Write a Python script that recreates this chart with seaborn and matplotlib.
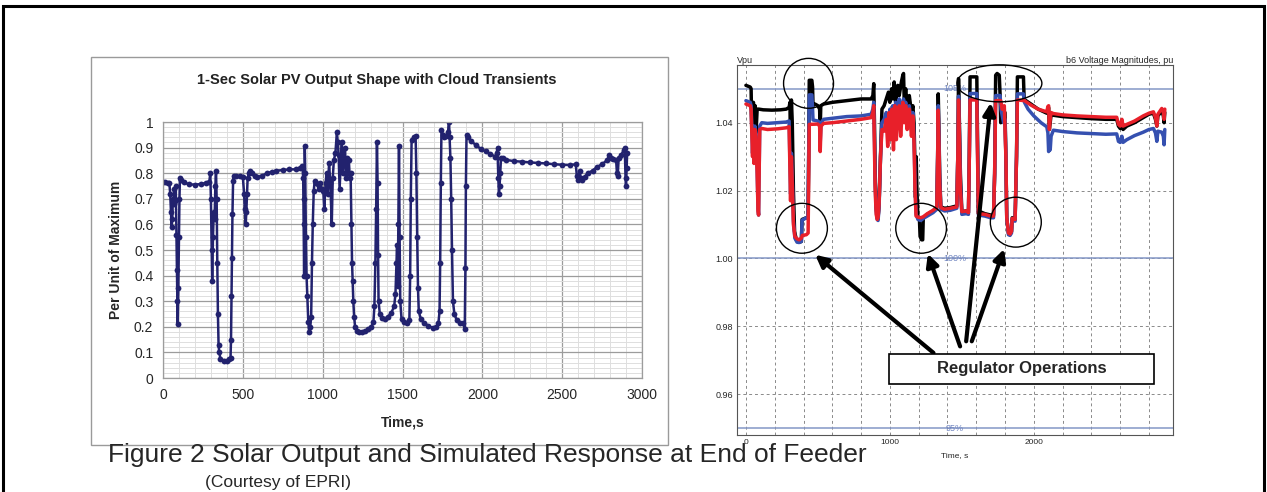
import matplotlib
matplotlib.use("Agg")
import matplotlib.pyplot as plt
import matplotlib.patches as mpatches
import numpy as np
import pandas as pd
import seaborn as sns

# ---- left chart: 1-sec PV output (per unit of maximum) ----
pv_time = [0, 15, 30, 40, 45, 50, 54, 58, 62, 66, 70, 75, 80, 84, 87, 90, 92, 96, 100, 103,
           106, 115, 130, 160, 200, 240, 270, 290, 296, 300, 305, 308, 313, 318, 323, 328, 332, 336, 340, 344,
           348, 352, 360, 380, 400, 415, 423, 426, 429, 432, 435, 439, 442, 460, 480, 500, 508, 512, 518, 522,
           526, 530, 538, 548, 560, 575, 590, 620, 650, 680, 710, 750, 790, 830, 860, 873, 878, 881, 884, 886,
           888, 891, 895, 899, 904, 910, 916, 922, 928, 933, 938, 944, 950, 960, 975, 985, 995, 1004, 1010, 1018,
           1025, 1032, 1040, 1048, 1057, 1063, 1070, 1080, 1089, 1095, 1100, 1106, 1112, 1120, 1126, 1133, 1140, 1146, 1152, 1158,
           1164, 1170, 1175, 1180, 1184, 1188, 1192, 1197, 1203, 1212, 1225, 1245, 1265, 1285, 1305, 1318, 1324, 1330, 1335, 1340,
           1344, 1347, 1350, 1358, 1370, 1390, 1410, 1430, 1448, 1456, 1462, 1466, 1470, 1474, 1478, 1482, 1486, 1494, 1510, 1530,
           1543, 1548, 1552, 1557, 1570, 1582, 1587, 1592, 1597, 1602, 1615, 1635, 1660, 1690, 1712, 1725, 1732, 1736, 1740, 1744,
           1752, 1762, 1775, 1785, 1791, 1795, 1800, 1805, 1810, 1816, 1825, 1840, 1860, 1880, 1890, 1894, 1897, 1901, 1910, 1930,
           1960, 1990, 2020, 2050, 2080, 2090, 2095, 2100, 2104, 2108, 2112, 2117, 2130, 2150, 2200, 2250, 2300, 2350, 2400, 2450,
           2500, 2550, 2585, 2592, 2600, 2610, 2616, 2625, 2640, 2660, 2690, 2720, 2750, 2780, 2795, 2805, 2820, 2838, 2843, 2848,
           2854, 2870, 2885, 2892, 2897, 2900, 2904, 2907]
pv_value = [0.765, 0.765, 0.762, 0.76, 0.72, 0.65, 0.59, 0.62, 0.70, 0.68, 0.74, 0.69, 0.75, 0.56, 0.42, 0.30, 0.21, 0.35, 0.55, 0.70,
            0.78, 0.775, 0.765, 0.757, 0.755, 0.758, 0.762, 0.765, 0.80, 0.70, 0.50, 0.38, 0.55, 0.65, 0.62, 0.75, 0.81, 0.70, 0.45, 0.25,
            0.13, 0.10, 0.075, 0.065, 0.068, 0.075, 0.08, 0.15, 0.32, 0.47, 0.64, 0.77, 0.79, 0.79, 0.788, 0.785, 0.72, 0.66, 0.60, 0.65,
            0.72, 0.78, 0.80, 0.81, 0.80, 0.79, 0.785, 0.79, 0.80, 0.805, 0.81, 0.812, 0.815, 0.815, 0.82, 0.83, 0.78, 0.60, 0.40, 0.70,
            0.905, 0.80, 0.55, 0.40, 0.32, 0.22, 0.18, 0.20, 0.24, 0.45, 0.60, 0.73, 0.77, 0.76, 0.74, 0.76, 0.74, 0.73, 0.66, 0.76,
            0.80, 0.72, 0.84, 0.76, 0.60, 0.78, 0.85, 0.88, 0.96, 0.92, 0.87, 0.74, 0.82, 0.92, 0.80, 0.86, 0.90, 0.78, 0.86, 0.80,
            0.85, 0.78, 0.80, 0.60, 0.45, 0.38, 0.30, 0.24, 0.20, 0.185, 0.18, 0.18, 0.183, 0.19, 0.20, 0.22, 0.28, 0.45, 0.66, 0.92,
            0.76, 0.48, 0.30, 0.25, 0.235, 0.23, 0.24, 0.255, 0.28, 0.33, 0.45, 0.52, 0.36, 0.60, 0.905, 0.55, 0.30, 0.23, 0.22, 0.215,
            0.225, 0.40, 0.70, 0.93, 0.94, 0.945, 0.80, 0.55, 0.35, 0.26, 0.23, 0.215, 0.205, 0.195, 0.20, 0.215, 0.26, 0.45, 0.76, 0.97,
            0.95, 0.94, 0.945, 0.96, 1.00, 0.94, 0.86, 0.70, 0.50, 0.30, 0.25, 0.225, 0.215, 0.215, 0.19, 0.43, 0.75, 0.95, 0.94, 0.925,
            0.91, 0.895, 0.885, 0.875, 0.865, 0.88, 0.90, 0.78, 0.72, 0.75, 0.80, 0.86, 0.86, 0.852, 0.847, 0.845, 0.842, 0.84, 0.838, 0.835,
            0.833, 0.832, 0.835, 0.79, 0.775, 0.81, 0.78, 0.775, 0.785, 0.80, 0.81, 0.825, 0.835, 0.85, 0.87, 0.86, 0.855, 0.85, 0.80, 0.79,
            0.86, 0.87, 0.89, 0.90, 0.78, 0.75, 0.82, 0.88]

# ---- right chart: b6 voltage magnitudes (pu), three phases ----
black_time = [0, 30, 36, 40, 46, 52, 58, 64, 70, 78, 90, 120, 180, 240, 280, 300, 306, 310, 316, 322,
              330, 338, 350, 370, 385, 390, 420, 432, 436, 440, 458, 463, 466, 480, 500, 512, 516, 520, 540, 600,
              700, 800, 870, 882, 888, 893, 898, 905, 912, 918, 925, 935, 945, 960, 975, 990, 1000, 1012, 1020, 1030,
              1040, 1055, 1065, 1080, 1090, 1095, 1100, 1110, 1120, 1135, 1150, 1160, 1168, 1173, 1178, 1183, 1188, 1195, 1205, 1210,
              1220, 1228, 1232, 1260, 1300, 1326, 1332, 1336, 1340, 1346, 1354, 1380, 1420, 1465, 1472, 1477, 1483, 1490, 1500, 1530,
              1546, 1552, 1557, 1604, 1608, 1615, 1660, 1700, 1720, 1728, 1735, 1745, 1760, 1766, 1770, 1790, 1800, 1806, 1812, 1824,
              1835, 1845, 1850, 1860, 1870, 1880, 1886, 1928, 1932, 1935, 1980, 2030, 2090, 2098, 2103, 2108, 2114, 2120, 2136, 2200,
              2300, 2400, 2500, 2576, 2588, 2600, 2612, 2620, 2646, 2700, 2760, 2800, 2831, 2845, 2855, 2862, 2889, 2900, 2905, 2910]
black_volt = [1.051, 1.0505, 1.050, 1.040, 1.038, 1.046, 1.039, 1.045, 1.037, 1.044, 1.044, 1.0438, 1.0437, 1.0438, 1.044, 1.0445, 1.046, 1.030, 1.0467, 1.040,
              1.020, 1.008, 1.0055, 1.0048, 1.005, 1.0115, 1.012, 1.012, 1.030, 1.0525, 1.0525, 1.0505, 1.045, 1.0455, 1.045, 1.044, 1.038, 1.045, 1.0455, 1.046,
              1.0465, 1.047, 1.047, 1.048, 1.0515, 1.040, 1.025, 1.015, 1.0125, 1.012, 1.016, 1.030, 1.044, 1.045, 1.047, 1.049, 1.046, 1.050, 1.047, 1.052,
              1.046, 1.051, 1.048, 1.052, 1.054, 1.0545, 1.046, 1.050, 1.045, 1.048, 1.043, 1.045, 1.040, 1.030, 1.018, 1.030, 1.020, 1.012, 1.012, 1.0065,
              1.0055, 1.0055, 1.012, 1.013, 1.014, 1.0152, 1.030, 1.0485, 1.040, 1.025, 1.0152, 1.0148, 1.015, 1.0155, 1.030, 1.053, 1.040, 1.025, 1.0138, 1.014,
              1.0135, 1.030, 1.0535, 1.0535, 1.040, 1.014, 1.0132, 1.0128, 1.0128, 1.025, 1.054, 1.0545, 1.054, 1.048, 1.040, 1.042, 1.043, 1.030, 1.012, 1.0075,
              1.0072, 1.008, 1.012, 1.0118, 1.0115, 1.030, 1.0535, 1.0535, 1.048, 1.0468, 1.0455, 1.044, 1.0428, 1.044, 1.0445, 1.038, 1.040, 1.0425, 1.0422, 1.0418,
              1.0415, 1.0412, 1.041, 1.041, 1.039, 1.0383, 1.040, 1.038, 1.039, 1.040, 1.0415, 1.0425, 1.0428, 1.041, 1.039, 1.042, 1.0435, 1.042, 1.040, 1.043]

blue_time = [0, 30, 36, 42, 46, 50, 56, 62, 70, 78, 84, 88, 92, 96, 110, 150, 220, 280, 300, 305,
             310, 316, 322, 330, 340, 355, 370, 385, 390, 420, 430, 436, 440, 458, 463, 466, 500, 512, 516, 522,
             540, 600, 700, 800, 870, 882, 888, 893, 898, 905, 912, 918, 925, 935, 945, 960, 975, 990, 1000, 1012,
             1020, 1030, 1040, 1055, 1065, 1080, 1095, 1100, 1110, 1120, 1135, 1150, 1160, 1168, 1175, 1182, 1195, 1215, 1232, 1260,
             1300, 1326, 1332, 1336, 1340, 1346, 1354, 1380, 1420, 1465, 1472, 1477, 1483, 1490, 1500, 1530, 1546, 1552, 1557, 1604,
             1608, 1615, 1660, 1700, 1720, 1728, 1735, 1766, 1772, 1790, 1800, 1806, 1812, 1824, 1835, 1845, 1850, 1870, 1880, 1886,
             1928, 1932, 1935, 1960, 2000, 2050, 2090, 2098, 2103, 2108, 2114, 2120, 2136, 2200, 2300, 2400, 2500, 2576, 2588, 2600,
             2612, 2620, 2646, 2700, 2760, 2800, 2831, 2845, 2855, 2862, 2889, 2900, 2905, 2910]
blue_volt = [1.0465, 1.046, 1.045, 1.037, 1.031, 1.039, 1.030, 1.039, 1.037, 1.026, 1.015, 1.0128, 1.026, 1.039, 1.040, 1.0398, 1.040, 1.0402, 1.0405, 1.030,
             1.019, 1.031, 1.024, 1.011, 1.006, 1.0048, 1.0047, 1.005, 1.0113, 1.012, 1.012, 1.030, 1.0482, 1.0482, 1.044, 1.0408, 1.0405, 1.040, 1.034, 1.040,
             1.041, 1.0413, 1.0418, 1.042, 1.0425, 1.044, 1.046, 1.035, 1.022, 1.014, 1.0115, 1.0112, 1.015, 1.030, 1.040, 1.041, 1.043, 1.038, 1.044, 1.040,
             1.045, 1.037, 1.046, 1.044, 1.047, 1.043, 1.047, 1.042, 1.046, 1.040, 1.045, 1.038, 1.043, 1.035, 1.022, 1.013, 1.0115, 1.0112, 1.0118, 1.0125,
             1.0135, 1.0145, 1.030, 1.045, 1.038, 1.024, 1.0145, 1.014, 1.0142, 1.0148, 1.030, 1.0478, 1.038, 1.022, 1.013, 1.0132, 1.013, 1.030, 1.0486, 1.0486,
             1.035, 1.0128, 1.0125, 1.012, 1.012, 1.025, 1.048, 1.048, 1.044, 1.040, 1.041, 1.030, 1.012, 1.007, 1.0068, 1.0075, 1.0113, 1.011, 1.030, 1.0485,
             1.0485, 1.0468, 1.046, 1.044, 1.042, 1.040, 1.0388, 1.037, 1.0315, 1.035, 1.032, 1.036, 1.0378, 1.0374, 1.037, 1.0368, 1.0366, 1.0367, 1.0345, 1.0342,
             1.036, 1.0342, 1.035, 1.0362, 1.0372, 1.038, 1.0383, 1.037, 1.0345, 1.0375, 1.0372, 1.036, 1.0335, 1.038]

red_time = [0, 30, 36, 42, 46, 50, 56, 62, 70, 78, 84, 88, 92, 96, 110, 150, 220, 280, 300, 305,
            310, 316, 322, 330, 340, 355, 370, 385, 392, 420, 432, 436, 440, 500, 512, 516, 522, 540, 600, 700,
            800, 870, 882, 888, 893, 898, 905, 912, 918, 925, 935, 945, 960, 975, 985, 995, 1005, 1015, 1025, 1035,
            1045, 1055, 1065, 1075, 1090, 1100, 1110, 1120, 1135, 1150, 1160, 1168, 1175, 1182, 1195, 1215, 1232, 1260, 1300, 1326,
            1332, 1336, 1340, 1346, 1354, 1380, 1420, 1465, 1472, 1477, 1483, 1490, 1500, 1530, 1546, 1552, 1557, 1604, 1608, 1615,
            1660, 1700, 1720, 1728, 1735, 1770, 1780, 1795, 1806, 1812, 1824, 1835, 1845, 1850, 1870, 1880, 1886, 1935, 1980, 2030,
            2090, 2098, 2103, 2108, 2114, 2120, 2136, 2200, 2300, 2400, 2500, 2576, 2588, 2600, 2612, 2620, 2646, 2700, 2760, 2800,
            2831, 2845, 2855, 2862, 2889, 2900, 2905, 2910]
red_volt = [1.0455, 1.045, 1.044, 1.036, 1.030, 1.038, 1.028, 1.038, 1.036, 1.025, 1.014, 1.0128, 1.025, 1.038, 1.0383, 1.038, 1.0382, 1.0385, 1.0388, 1.028,
            1.017, 1.030, 1.022, 1.010, 1.0065, 1.0058, 1.0055, 1.006, 1.0068, 1.007, 1.0075, 1.025, 1.0395, 1.0396, 1.039, 1.0315, 1.039, 1.0398, 1.040, 1.0405,
            1.041, 1.0415, 1.043, 1.045, 1.033, 1.020, 1.013, 1.0115, 1.012, 1.016, 1.030, 1.038, 1.0375, 1.041, 1.033, 1.043, 1.035, 1.044, 1.032, 1.045,
            1.035, 1.043, 1.045, 1.036, 1.046, 1.040, 1.045, 1.038, 1.044, 1.036, 1.042, 1.034, 1.020, 1.0125, 1.0122, 1.012, 1.0123, 1.0132, 1.0142, 1.015,
            1.030, 1.0437, 1.036, 1.022, 1.015, 1.0145, 1.0148, 1.0152, 1.030, 1.0467, 1.036, 1.020, 1.0138, 1.014, 1.0135, 1.030, 1.0467, 1.0467, 1.033, 1.0132,
            1.013, 1.0125, 1.0125, 1.025, 1.0465, 1.0465, 1.044, 1.045, 1.030, 1.012, 1.0075, 1.0072, 1.008, 1.0118, 1.0115, 1.030, 1.0467, 1.0465, 1.0452, 1.044,
            1.0432, 1.0448, 1.045, 1.038, 1.041, 1.043, 1.0427, 1.0423, 1.042, 1.0418, 1.0416, 1.0416, 1.0395, 1.039, 1.041, 1.039, 1.0395, 1.0405, 1.042, 1.0428,
            1.0432, 1.0415, 1.039, 1.0425, 1.0442, 1.043, 1.041, 1.044]

pv_xticks = [0, 500, 1000, 1500, 2000, 2500, 3000]
pv_yticks = [0, 0.1, 0.2, 0.3, 0.4, 0.5, 0.6, 0.7, 0.8, 0.9, 1]
volt_yticks = [0.96, 0.98, 1.00, 1.02, 1.04]
limit_levels = [1.05, 1.00, 0.95]
limit_labels = ["105%", "100%", "95%"]

W, H = 1267, 492


def px_rect(x0, y0, x1, y1):
    return [x0 / W, 1 - y1 / H, (x1 - x0) / W, (y1 - y0) / H]


sns.set_style("white")
plt.rcParams["font.family"] = ["Liberation Sans", "DejaVu Sans"]

fig = plt.figure(figsize=(W / 100, H / 100), dpi=100)

# outer page frame
fig.add_artist(mpatches.Rectangle((3 / W, -0.05), 1261 / W, 1.05 - 6 / H, transform=fig.transFigure,
                                  fill=False, edgecolor="black", linewidth=2.2))
# left chart box
fig.add_artist(mpatches.Rectangle((91 / W, 1 - 445 / H), (668 - 91) / W, (445 - 57) / H, transform=fig.transFigure,
                                  fill=False, edgecolor="#9a9a9a", linewidth=1.0))

# ---------------- left chart ----------------
ax1 = fig.add_axes(px_rect(163, 122, 642, 378))
pv = pd.DataFrame({"t": pv_time, "v": pv_value})
sns.lineplot(data=pv, x="t", y="v", ax=ax1, color="#22226e", linewidth=1.8, marker="o",
             markersize=4.2, markeredgewidth=0, sort=False, estimator=None)
ax1.set_xlim(0, 3000)
ax1.set_ylim(0, 1)
ax1.set_xticks(pv_xticks)
ax1.set_xticklabels([str(v) for v in pv_xticks], fontsize=10)
ax1.set_yticks(pv_yticks)
ax1.set_yticklabels(["0", "0.1", "0.2", "0.3", "0.4", "0.5", "0.6", "0.7", "0.8", "0.9", "1"], fontsize=10)
ax1.set_xticks(np.arange(0, 3001, 100), minor=True)
ax1.set_yticks(np.arange(0, 1.001, 0.02), minor=True)
ax1.grid(which="minor", color="#dedede", linewidth=0.7)
ax1.grid(which="major", color="#9c9c9c", linewidth=0.9)
ax1.set_axisbelow(True)
ax1.tick_params(which="major", direction="out", length=4, color="#808080", pad=3)
ax1.tick_params(which="minor", length=0)
for s in ax1.spines.values():
    s.set_color("#9c9c9c")
    s.set_linewidth(0.9)
ax1.set_xlabel("Time,s", fontsize=10, fontweight="bold", labelpad=10)
ax1.set_ylabel("Per Unit of Maximum", fontsize=10, fontweight="bold", labelpad=8)
fig.text(377 / W, 1 - 80 / H, "1-Sec Solar PV Output Shape with Cloud Transients",
         ha="center", va="center", fontsize=10.5, fontweight="bold", color="#222222")

# ---------------- right chart ----------------
ax2 = fig.add_axes(px_rect(737, 65, 1173, 435))
ax2.set_xlim(-62, 2967)
ax2.set_ylim(0.948, 1.057)
ax2.set_xticks(np.arange(0, 2900, 200), minor=True)
ax2.set_xticks([0, 1000, 2000])
ax2.set_xticklabels(["0", "1000", "2000"], fontsize=6)
ax2.set_yticks(volt_yticks)
ax2.set_yticklabels(["0.96", "0.98", "1.00", "1.02", "1.04"], fontsize=6.5)
for xv in np.arange(0, 2900, 200):
    ax2.axvline(xv, color="#8a8a8a", linestyle=(0, (3, 3)), linewidth=0.7, zorder=0)
for yv in volt_yticks:
    ax2.axhline(yv, color="#8a8a8a", linestyle=(0, (3, 3)), linewidth=0.7, zorder=0)
for lv, lb in zip(limit_levels, limit_labels):
    ax2.axhline(lv, color="#8497c6", linewidth=1.1, zorder=1)
    ax2.text(1450, lv, lb, color="#6f84c0", fontsize=6.5, ha="center", va="center", zorder=1)
ax2.tick_params(which="both", direction="in", length=3, color="#555555", pad=3)
for s in ax2.spines.values():
    s.set_color("#555555")
    s.set_linewidth(0.8)

sns.lineplot(x=black_time, y=black_volt, ax=ax2, color="black", linewidth=2.5, sort=False, estimator=None, zorder=3)
sns.lineplot(x=blue_time, y=blue_volt, ax=ax2, color="#3550b0", linewidth=2.5, sort=False, estimator=None, zorder=4)
sns.lineplot(x=red_time, y=red_volt, ax=ax2, color="#e8202a", linewidth=2.5, sort=False, estimator=None, zorder=5)

ax2.text(0, 1.0, "Vpu", transform=ax2.transAxes, fontsize=6.5, ha="left", va="bottom")
ax2.text(1, 1.0, "b6 Voltage Magnitudes, pu", transform=ax2.transAxes, fontsize=6.5, ha="right", va="bottom")
fig.text(955 / W, 1 - 456 / H, "Time, s", fontsize=6, ha="center", va="center")

# circles around regulator operations (data units of right chart)
for cx, cy, w, h in [(435, 1.0516, 347, 0.0147), (389, 1.0089, 354, 0.0147),
                     (1217, 1.0089, 352, 0.0147), (1875, 1.0107, 354, 0.0147),
                     (1761, 1.0516, 590, 0.0109)]:
    ax2.add_patch(mpatches.Ellipse((cx, cy), w, h, fill=False, edgecolor="black",
                                   linewidth=1.0, zorder=6, clip_on=False))

for (tx, ty), (hx, hy) in [((1303, 0.9722), (481, 1.0011)), ((1488, 0.9741), (1264, 1.0014)),
                           ((1530, 0.9756), (1701, 1.0459)), ((1569, 0.9756), (1794, 1.0028))]:
    ax2.annotate("", xy=(hx, hy), xytext=(tx, ty),
                 arrowprops=dict(arrowstyle="-|>", color="black", lw=3, mutation_scale=18,
                                 shrinkA=0, shrinkB=0), zorder=7, annotation_clip=False)

ax2.add_patch(mpatches.Rectangle((997, 0.96306), 2835 - 997, 0.97197 - 0.96306, facecolor="white",
                                 edgecolor="black", linewidth=1.2, zorder=8))
ax2.text((997 + 2835) / 2, (0.96306 + 0.97197) / 2, "Regulator Operations", fontsize=12,
         fontweight="bold", ha="center", va="center", zorder=9)

# caption
fig.text(108 / W, 1 - 455 / H, "Figure 2 Solar Output and Simulated Response at End of Feeder",
         fontsize=19, ha="left", va="center")
fig.text(205 / W, 1 - 482 / H, "(Courtesy of EPRI)", fontsize=12.5, ha="left", va="center")

fig.savefig("out.png", dpi=100)
